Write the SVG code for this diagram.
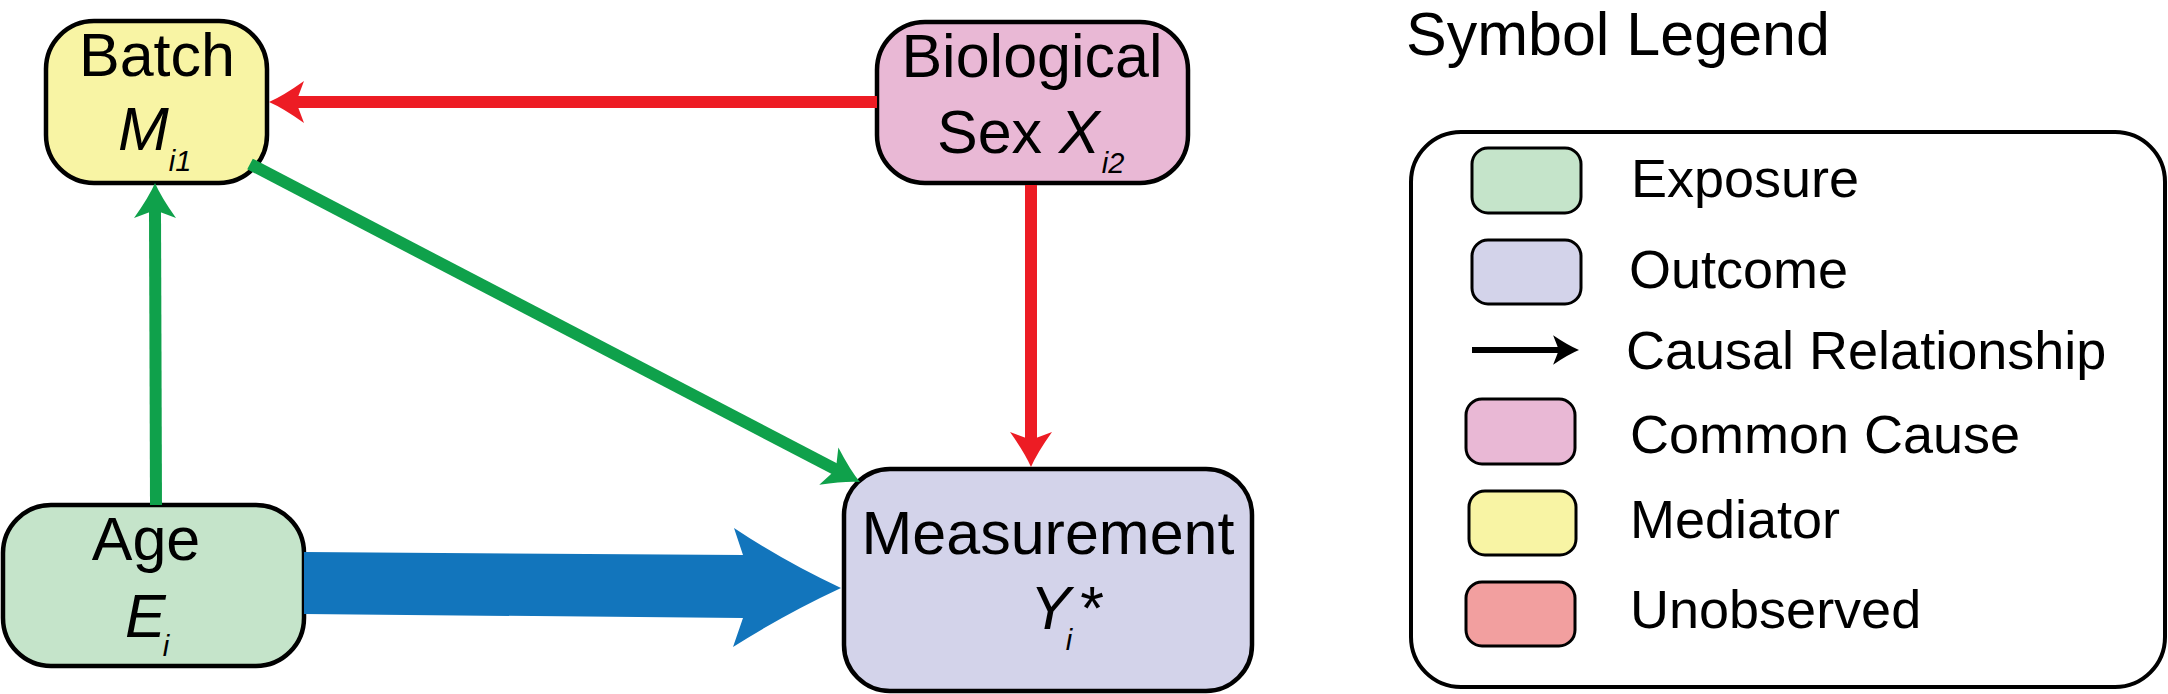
<svg xmlns="http://www.w3.org/2000/svg" xmlns:xlink="http://www.w3.org/1999/xlink" width="2168" height="694" viewBox="0 0 2168 694">
<style>
text{font-family:"Liberation Sans",Arial,sans-serif;fill:#000}
.lbl{font-size:61px}
.sub{font-size:29px;font-style:italic}
.it{font-style:italic}
.leg{font-size:54px}
.node{stroke:#000;stroke-width:4.5}
.sw{stroke:#000;stroke-width:3}
.red{stroke:#ed1c24;stroke-width:12;fill:none}
.grn{stroke:#0fa14b;stroke-width:12;fill:none}
</style>
<defs>
<path id="head" d="M0,0 Q-14,-6 -35,-21 L-29,-5 L-29,5 L-35,21 Q-14,6 0,0 Z"/>
</defs>
<rect width="2168" height="694" fill="#fff"/>

<g id="node-batch">
<rect class="node" x="46" y="21" width="221" height="162" rx="48" ry="48" fill="#f8f4a4"/>
<text class="lbl" x="157" y="76" text-anchor="middle">Batch</text>
<text class="lbl" x="118" y="150"><tspan class="it">M</tspan><tspan class="sub" dy="21">i1</tspan></text>
</g>

<g id="node-sex">
<rect class="node" x="877" y="22" width="311" height="161" rx="48" ry="48" fill="#e9b8d5"/>
<text class="lbl" x="1032" y="77" text-anchor="middle">Biological</text>
<text class="lbl" x="937" y="153">Sex <tspan class="it">X</tspan><tspan class="sub" dx="2" dy="20">i2</tspan></text>
</g>

<g id="node-age">
<rect class="node" x="3" y="505" width="301" height="161" rx="48" ry="48" fill="#c5e4ca"/>
<text class="lbl" x="146" y="560" text-anchor="middle">Age</text>
<text class="lbl" x="125" y="637"><tspan class="it">E</tspan><tspan class="sub" dx="-3" dy="19">i</tspan></text>
</g>

<g id="node-measurement">
<rect class="node" x="844" y="469" width="408" height="222" rx="46" ry="46" fill="#d3d3ea"/>
<text class="lbl" x="1048" y="554" text-anchor="middle">Measurement</text>
<text class="lbl" x="1030" y="629"><tspan class="it">Y</tspan><tspan class="sub" dx="-5" dy="21">i</tspan><tspan dx="8" dy="-21">*</tspan></text>
</g>

<g id="connectors">
<line class="red" x1="877" y1="102" x2="298" y2="102"/>
<use xlink:href="#head" fill="#ed1c24" transform="translate(269,102) rotate(180)"/>
<line class="red" x1="1031" y1="185" x2="1031" y2="440"/>
<use xlink:href="#head" fill="#ed1c24" transform="translate(1031,467) rotate(90)"/>
<line class="grn" x1="156" y1="505" x2="155" y2="212"/>
<use xlink:href="#head" fill="#0fa14b" transform="translate(155,183) rotate(-90)"/>
<line class="grn" x1="250" y1="164" x2="835" y2="469"/>
<use xlink:href="#head" fill="#0fa14b" transform="translate(860,482) rotate(27)"/>
<path fill="#1275bc" d="M841,588 Q785,562 734,528 L743,555 L304,552 L304,614 L743,618 L733,647 Q785,614 841,588 Z"/>
</g>

<g id="legend">
<text class="lbl" x="1406" y="55">Symbol Legend</text>
<rect x="1411" y="132" width="754" height="555" rx="50" ry="50" fill="#fff" stroke="#000" stroke-width="4"/>
<rect class="sw" x="1472" y="148" width="109" height="65" rx="16" fill="#c5e4ca"/>
<text class="leg" x="1631" y="197">Exposure</text>
<rect class="sw" x="1472" y="240" width="109" height="64" rx="16" fill="#d3d3ea"/>
<text class="leg" x="1629" y="288">Outcome</text>
<line x1="1472" y1="350" x2="1562" y2="350" stroke="#000" stroke-width="6"/>
<use xlink:href="#head" fill="#000" transform="translate(1579,350) scale(0.74,0.7)"/>
<text class="leg" x="1626" y="369">Causal Relationship</text>
<rect class="sw" x="1466" y="399" width="109" height="65" rx="16" fill="#e9b8d5"/>
<text class="leg" x="1630" y="453">Common Cause</text>
<rect class="sw" x="1469" y="491" width="107" height="64" rx="16" fill="#f8f4a4"/>
<text class="leg" x="1630" y="538">Mediator</text>
<rect class="sw" x="1466" y="582" width="109" height="64" rx="16" fill="#f29f9f"/>
<text class="leg" x="1630" y="628">Unobserved</text>
</g>
</svg>
